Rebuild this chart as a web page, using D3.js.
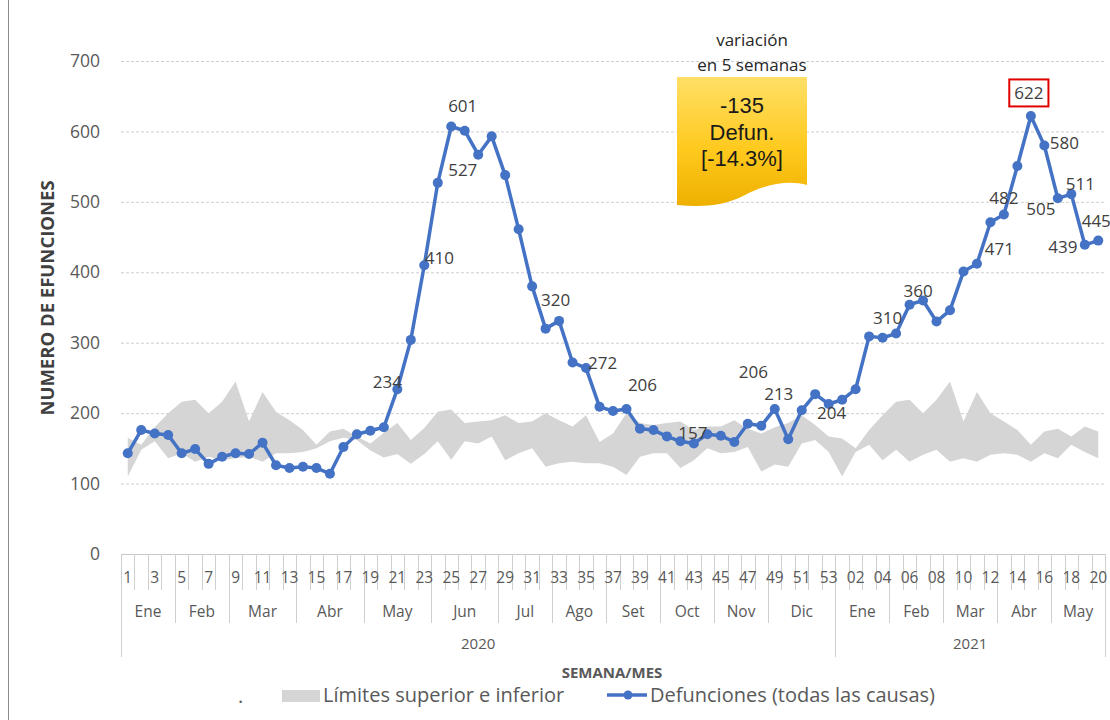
<!DOCTYPE html>
<html><head><meta charset="utf-8">
<script src="https://cdnjs.cloudflare.com/ajax/libs/d3/7.8.5/d3.min.js"></script>
<style>
body{margin:0;background:#fff;}
svg{display:block;font-family:"Open Sans",sans-serif;}
</style>
</head><body>
<svg id="chart" width="1110" height="720"></svg>
<script>
// ---------------- DATA ----------------
const weekLabels = [
  "1","2","3","4","5","6","7","8","9","10","11","12","13","14","15","16","17","18","19","20",
  "21","22","23","24","25","26","27","28","29","30","31","32","33","34","35","36","37","38","39","40",
  "41","42","43","44","45","46","47","48","49","50","51","52","53",
  "01","02","03","04","05","06","07","08","09","10","11","12","13","14","15","16","17","18","19","20"
];
const weekYears = [].concat(Array(53).fill("2020"), Array(20).fill("2021"));

const deaths = [
  143,176,171,169,143,149,128,138,143,142,158,126,122,124,122,114,152,170,175,180,
  234,304,410,527,607,601,567,593,538,461,380,320,331,272,264,209,203,206,178,176,
  167,160,157,170,168,159,185,182,206,163,204,227,213,
  219,234,309,307,313,354,360,330,346,401,412,471,482,551,622,580,505,511,439,445
];
const upperLimit = [
  165,155,180,200,216,219,200,216,245,188,230,202,190,176,155,174,178,167,157,172,
  186,162,179,202,205,186,188,190,197,186,188,200,190,181,197,159,171,200,186,183,
  186,188,176,181,181,190,178,171,180,186,197,183,167,
  164,150,176,197,216,219,200,219,245,188,230,200,188,176,155,174,178,167,181,174
];
const lowerLimit = [
  110,148,160,136,143,131,138,133,136,138,131,143,143,145,150,160,165,162,147,137,
  142,128,142,160,134,160,157,167,133,143,150,124,129,131,129,129,124,112,138,143,
  143,122,133,150,143,145,152,117,127,124,157,162,145,
  110,145,155,133,148,131,141,148,131,136,131,141,143,141,131,143,136,155,145,136
];

const monthNames = ["Ene","Feb","Mar","Abr","May","Jun","Jul","Ago","Set","Oct","Nov","Dic",
                    "Ene","Feb","Mar","Abr","May"];
const monthWeeks = [4,4,5,5,5,5,4,4,4,4,4,5, 4,4,4,4,4];
const yearNames = ["2020","2021"];
const yearWeeks = [53,20];
const yTicks = [0,100,200,300,400,500,600,700];

// data labels: index of the point they belong to and the text shown
const labelIndex = [25,23,22,20,31,33,37,42,47,48,52,56,59,65,64,67,68,69,70,71,72];
const labelText  = ["601","527","410","234","320","272","206","157","206","213","204",
                    "310","360","482","471","622","580","505","511","439","445"];
// (layout) offsets of the labels from their point
const labelOffsets = [[-2,-25],[25,-13],[15,-8],[-10,-8],[10,-29],[30,0],[16,-24],[-1,-11],
  [-8,-54],[4,-15],[3,9],[5,-20],[-5,-10],[0,-17],[9,26],[-2,-23],[20,-3],[-17,10],[9,-11],[-22,2],[-2,-20]];

const calloutTitle = ["variación","en 5 semanas"];
const calloutLines = ["-135","Defun.","[-14.3%]"];
const legendItems = ["Límites superior e inferior","Defunciones (todas las causas)"];

// ---------------- CHART ----------------
const svg = d3.select("#chart");
const cats = weekLabels.map((w,i)=> weekYears[i] + "-" + w);
const L = 121, R = 1105, T = 61, B = 554;
const x = d3.scaleBand().domain(cats).range([L,R]).padding(0);
const bw = x.bandwidth();
const cx = i => x(cats[i]) + bw/2;
const y = d3.scaleLinear().domain([0,700]).range([B,T]);

// left border of chart area
svg.append("line").attr("x1",8.5).attr("x2",8.5).attr("y1",0).attr("y2",720)
  .attr("stroke","#8c8c8c").attr("stroke-width",1);

// gridlines
const grid = svg.append("g").attr("transform",`translate(${L},0)`)
  .call(d3.axisLeft(y).tickValues(yTicks.filter(v=>v>0)).tickSize(-(R-L)).tickFormat(""));
grid.select(".domain").remove();
grid.selectAll("line").attr("stroke","#cfcfcf").attr("stroke-dasharray","3,2");

// y tick labels
const yAx = svg.append("g").attr("transform",`translate(100,0)`)
  .call(d3.axisLeft(y).tickValues(yTicks).tickSize(0).tickPadding(0));
yAx.select(".domain").remove();
yAx.selectAll("text").attr("font-family","Open Sans").attr("font-size",17.5)
  .attr("fill","#595959").attr("dx","0");

// y title
svg.append("text").attr("transform","translate(54,298) rotate(-90)")
  .attr("text-anchor","middle").attr("font-weight",700).attr("font-size",18.5)
  .attr("fill","#404040").text("NUMERO DE EFUNCIONES");

// band area
const idx = d3.range(cats.length);
svg.append("path").datum(idx)
  .attr("d", d3.area().x(i=>cx(i)).y0(i=>y(lowerLimit[i])).y1(i=>y(upperLimit[i])))
  .attr("fill","#d5d5d5");

// category axis (hierarchical)
const axG = svg.append("g");
axG.append("line").attr("x1",L).attr("x2",R).attr("y1",B+0.5).attr("y2",B+0.5)
  .attr("stroke","#c8c8c8");
// week boundaries
for (let i=0;i<=cats.length;i++){
  const bx = Math.round(L + i*bw)+0.5;
  axG.append("line").attr("x1",bx).attr("x2",bx).attr("y1",B).attr("y2",590)
    .attr("stroke","#cfcfcf");
}
// week labels
const wAx = svg.append("g").attr("transform",`translate(0,${B})`)
  .call(d3.axisBottom(x).tickSize(0).tickPadding(0)
    .tickFormat((d,i)=> i%2===0 ? weekLabels[i] : ""));
wAx.select(".domain").remove();
wAx.selectAll("text").attr("font-family","Open Sans").attr("font-size",15.5)
  .attr("fill","#595959").attr("dy","0").attr("y",29);
// month boundaries + labels
let acc = 0;
monthWeeks.forEach((n,k)=>{
  const x0 = x(cats[acc]); const x1 = acc+n < cats.length ? x(cats[acc+n]) : R;
  axG.append("text").attr("x",(x0+x1)/2).attr("y",617).attr("text-anchor","middle")
    .attr("font-size",15.5).attr("fill","#595959").text(monthNames[k]);
  acc += n;
  const bx = Math.round(x1)+0.5;
  axG.append("line").attr("x1",bx).attr("x2",bx).attr("y1",B).attr("y2",623).attr("stroke","#cfcfcf");
});
// year boundaries + labels
acc = 0;
axG.append("line").attr("x1",L+0.5).attr("x2",L+0.5).attr("y1",B).attr("y2",657).attr("stroke","#cfcfcf");
yearWeeks.forEach((n,k)=>{
  const x0 = x(cats[acc]); const x1 = acc+n < cats.length ? x(cats[acc+n]) : R;
  axG.append("text").attr("x",(x0+x1)/2).attr("y",649).attr("text-anchor","middle")
    .attr("font-size",15).attr("fill","#595959").text(yearNames[k]);
  acc += n;
  const bx = Math.round(x1)+0.5;
  axG.append("line").attr("x1",bx).attr("x2",bx).attr("y1",B).attr("y2",657).attr("stroke","#cfcfcf");
});
svg.append("text").attr("x",612).attr("y",678).attr("text-anchor","middle")
  .attr("font-weight",700).attr("font-size",15).attr("fill","#595959").text("SEMANA/MES");

// deaths line
const blue = "#4472c4";
svg.append("path").datum(idx)
  .attr("d", d3.line().x(i=>cx(i)).y(i=>y(deaths[i])))
  .attr("fill","none").attr("stroke",blue).attr("stroke-width",3.5).attr("stroke-linejoin","round");
svg.append("g").selectAll("circle").data(idx).join("circle")
  .attr("cx",i=>cx(i)).attr("cy",i=>y(deaths[i])).attr("r",5).attr("fill",blue);

// data labels
const lg = svg.append("g");
labelIndex.forEach((i,k)=>{
  const t = lg.append("text").attr("x",cx(i)+labelOffsets[k][0]).attr("y",y(deaths[i])+labelOffsets[k][1])
    .attr("text-anchor","middle").attr("dominant-baseline","central")
    .attr("font-size",17).attr("fill","#404040").text(labelText[k]);
  if (labelText[k]==="622"){
    const bb = t.node().getBBox();
    lg.append("rect").attr("x",bb.x-5).attr("y",bb.y-2).attr("width",bb.width+10).attr("height",bb.height+4)
      .attr("fill","none").attr("stroke","#e00000").attr("stroke-width",2);
  }
});

// callout
const defs = svg.append("defs");
const gr = defs.append("linearGradient").attr("id","yg").attr("x1",0).attr("y1",0).attr("x2",0).attr("y2",1);
gr.append("stop").attr("offset","0%").attr("stop-color","#ffdf66");
gr.append("stop").attr("offset","55%").attr("stop-color","#ffca1f");
gr.append("stop").attr("offset","100%").attr("stop-color","#eeb000");
svg.append("path")
  .attr("d","M677,77 H807 V185 C790,180 768,183 745,195 C722,207 700,207 677,205 Z")
  .attr("fill","url(#yg)");
calloutTitle.forEach((t,k)=>{
  svg.append("text").attr("x",752).attr("y",46+k*24.5).attr("text-anchor","middle")
    .attr("font-size",17).attr("fill","#262626").text(t);
});
calloutLines.forEach((t,k)=>{
  svg.append("text").attr("x",742).attr("y",113+k*26.5).attr("text-anchor","middle")
    .attr("font-family","Liberation Sans").attr("font-size",22).attr("fill","#1a1a1a").text(t);
});

// legend
svg.append("text").attr("x",238).attr("y",703).attr("font-size",20).attr("fill","#595959").text(".");
svg.append("rect").attr("x",282).attr("y",690).attr("width",38).attr("height",12).attr("fill","#d5d5d5");
svg.append("text").attr("x",323).attr("y",702).attr("font-size",20).attr("fill","#595959").text(legendItems[0]);
svg.append("line").attr("x1",607).attr("x2",647).attr("y1",695).attr("y2",695).attr("stroke",blue).attr("stroke-width",3.5);
svg.append("circle").attr("cx",628).attr("cy",695).attr("r",4.5).attr("fill",blue);
svg.append("text").attr("x",650).attr("y",702).attr("font-size",20).attr("fill","#595959").text(legendItems[1]);
</script>
</body></html>
